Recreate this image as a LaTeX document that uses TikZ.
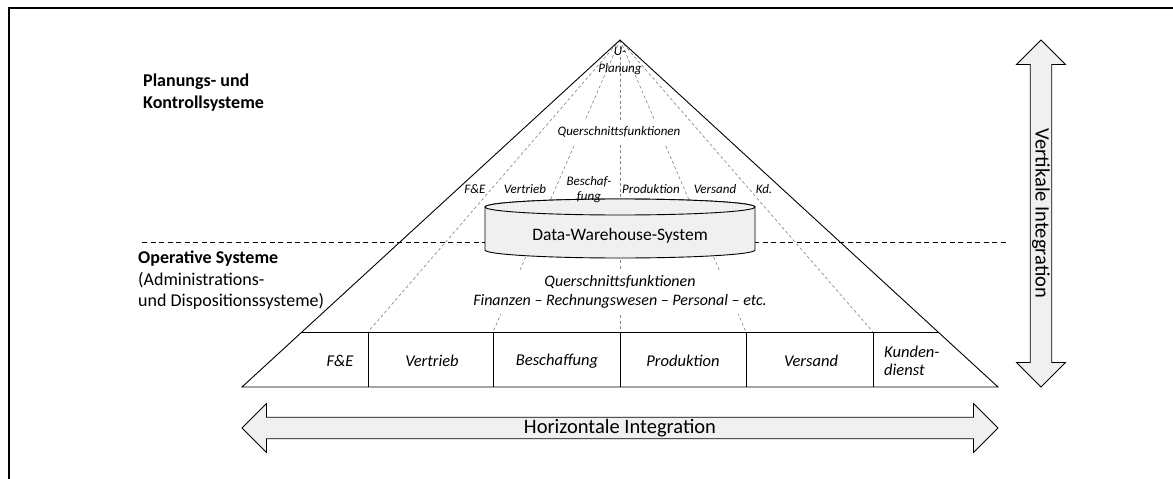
\documentclass[tikz,border=0pt]{standalone}
\usepackage{fontspec}
\setmainfont{Carlito}
\usetikzlibrary{shapes.arrows, positioning, calc}
\tikzset{
    fanline/.style={gray, dash pattern=on 3pt off 2.5pt, line width=0.6pt},
    levelline/.style={black, dash pattern=on 5pt off 3.5pt, line width=0.8pt},
    frameline/.style={line width=1.2pt},
    pyramid/.style={draw, line width=0.9pt},
    cyl/.style={draw, fill=gray!12, line width=0.9pt},
    funclabel/.style={font=\fontsize{13}{15}\selectfont\itshape, inner sep=1pt, align=center},
    boxlabel/.style={font=\fontsize{16.5}{18}\selectfont\itshape, inner sep=1pt, align=center},
    layerlabel/.style={font=\fontsize{18}{21.5}\selectfont, align=left, anchor=north west, inner sep=0pt},
    intarrow/.style={double arrow, draw, fill=gray!12, line width=0.8pt, double arrow head extend=12pt, double arrow head indent=0pt, minimum width=49pt, inner sep=0pt, font=\fontsize{20.5}{22}\selectfont},
}
\begin{document}
\begin{tikzpicture}[x=1pt, y=-1pt]
    \useasboundingbox (0,0) rectangle (1173,479);
    \draw[frameline] (1173,8) -- (9,8) -- (9,479);
    % pyramid corners
    \coordinate (apex) at (620,40);
    \coordinate (bl) at (242,387);
    \coordinate (br) at (998,387);
    \coordinate (rowl) at (302,332);
    \coordinate (rowr) at (938,332);
    % dashed fan from the apex to the function boxes
    \foreach \x [count=\i] in {368,493,620,746,873} {
        \coordinate (d\i) at (\x,332);
        \draw[fanline] (apex) -- (d\i);
    }
    \draw[levelline] (142,242) -- (1007,242);
    \draw[pyramid] (bl) -- (apex) -- (br) -- cycle;
    \draw[pyramid] (rowl) -- (rowr);
    \foreach \i in {1,...,5} {
        \draw[pyramid] (d\i) -- (d\i |- bl);
    }
    % data warehouse
    \path[cyl] (485,207) -- (485,250) arc[start angle=180, end angle=360, x radius=135pt, y radius=8pt] -- (755,207) arc[start angle=0, end angle=180, x radius=135pt, y radius=8pt] -- cycle;
    \draw[cyl] (620,207) ellipse[x radius=135pt, y radius=8pt];
    \node[font=\fontsize{17.5}{20}\selectfont] (dws) at (620,236) {Data-Warehouse-System};
    % upper part
    \node[funclabel, font=\fontsize{13}{17}\selectfont\itshape] (uplan) at (620,61) {U-\\Planung};
    \node[funclabel, fill=white, inner xsep=3pt, inner ysep=7pt] (qf1) at (619,132) {Querschnittsfunktionen};
    \node[funclabel] (fe1) at (475,189) {F\&E};
    \node[funclabel] (vt1) at (525,189) {Vertrieb};
    \node[funclabel] (bs1) at (589,190) {Beschaf-\\fung};
    \node[funclabel] (pr1) at (651,189) {Produktion};
    \node[funclabel] (vs1) at (715,189) {Versand};
    \node[funclabel] (kd1) at (764,189) {Kd.};
    % lower part
    \node[boxlabel, fill=white, inner ysep=6pt, font=\fontsize{16}{19}\selectfont\itshape] (qf2) at (620,292) {Querschnittsfunktionen\\Finanzen -- Rechnungswesen -- Personal -- etc.};
    \node[boxlabel] (fe2) at (340,361) {F\&E};
    \node[boxlabel] (vt2) at (432,361) {Vertrieb};
    \node[boxlabel] (bs2) at (557,361) {Beschaffung};
    \node[boxlabel] (pr2) at (683,361) {Produktion};
    \node[boxlabel] (vs2) at (811,361) {Versand};
    \node[boxlabel, anchor=west, align=left] (kd2) at (883,361) {Kunden-\\dienst};
    % layer labels
    \node[layerlabel] (plan) at (143,74) {\textbf{Planungs- und}\\\textbf{Kontrollsysteme}};
    \node[layerlabel] (oper) at (138,251) {\textbf{Operative Systeme}\\(Administrations-\\und Dispositionssysteme)};
    % integration arrows
    \node[intarrow, minimum height=756pt] (horiz) at (620,428) {Horizontale Integration};
    \node[intarrow, minimum height=347pt, rotate=-90] (vert) at (1041,213.5) {Vertikale Integration};
\end{tikzpicture}
\end{document}
